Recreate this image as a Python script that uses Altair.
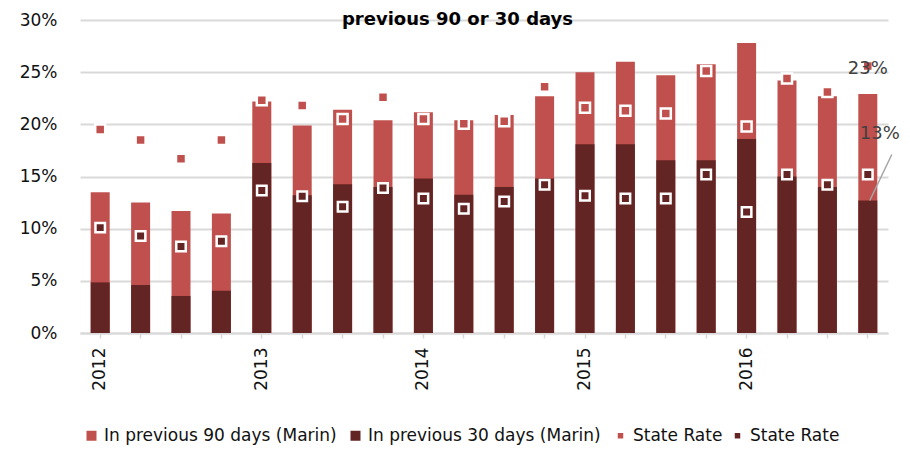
import altair as alt
import pandas as pd

quarters = [
    "2012 Q1", "2012 Q2", "2012 Q3", "2012 Q4",
    "2013 Q1", "2013 Q2", "2013 Q3", "2013 Q4",
    "2014 Q1", "2014 Q2", "2014 Q3", "2014 Q4",
    "2015 Q1", "2015 Q2", "2015 Q3", "2015 Q4",
    "2016 Q1", "2016 Q2", "2016 Q3", "2016 Q4",
]
marin_90 = [13.5, 12.5, 11.7, 11.45, 22.2, 19.9, 21.4, 20.4, 21.15, 20.4,
            20.9, 22.7, 25.0, 26.0, 24.7, 25.75, 27.8, 24.2, 22.7, 22.9]
marin_30 = [4.85, 4.6, 3.55, 4.05, 16.3, 13.2, 14.25, 14.0, 14.8, 13.25,
            14.0, 14.8, 18.1, 18.1, 16.55, 16.55, 18.6, 15.0, 14.0, 12.7]
state_90 = [19.5, 18.5, 16.7, 18.5, 22.3, 21.8, 20.5, 22.6, 20.5, 20.05,
            20.3, 23.6, 21.6, 21.3, 21.05, 25.1, 19.8, 24.4, 23.1, 25.6]
state_30 = [10.1, 9.3, 8.3, 8.8, 13.65, 13.1, 12.1, 13.9, 12.9, 11.9,
            12.6, 14.2, 13.15, 12.9, 12.9, 15.2, 11.6, 15.2, 14.2, 15.2]
bar_series = ["In previous 90 days (Marin)", "In previous 30 days (Marin)"]
bar_colors = ["#C0504D", "#632523"]
state_series = ["State Rate", "State Rate "]
state_colors = ["#C0504D", "#632523"]
y_ticks = [0, 5, 10, 15, 20, 25, 30]
title_text = "previous 90 or 30 days"

rows = []
for name, vals in zip(bar_series + state_series, [marin_90, marin_30, state_90, state_30]):
    for q, v in zip(quarters, vals):
        rows.append({"q": q, "series": name, "v": v})
df = pd.DataFrame(rows)

FONT = "DejaVu Sans"
W, H = 808, 313

x_enc = alt.X(
    "q:N", sort=quarters, title=None,
    scale=alt.Scale(domain=quarters, paddingInner=0.53, paddingOuter=0.265),
    axis=alt.Axis(
        labelExpr="indexof(datum.value, 'Q1') >= 0 ? slice(datum.value, 0, 4) : ''",
        labelAngle=270, labelFont=FONT, labelFontSize=17, labelColor="#111111",
        labelPadding=9, ticks=True, tickSize=5, tickColor="#d9d9d9", tickWidth=1.5,
        domain=True, domainColor="#d9d9d9", domainWidth=2, grid=False,
        labelOverlap=False,
    ),
)
y_enc = alt.Y(
    "v:Q", title=None, stack=None,
    scale=alt.Scale(domain=[0, 30], nice=False, zero=True),
    axis=alt.Axis(
        values=y_ticks, labelExpr="datum.value + '%'", labelFont=FONT,
        labelFontSize=17, labelColor="#111111", labelPadding=23, ticks=False,
        tickSize=0, domain=False, grid=True, gridColor="#d9d9d9", gridWidth=2,
    ),
)
legend_common = dict(
    orient="none", direction="horizontal", symbolType="square",
    symbolStrokeWidth=0, symbolOpacity=1, labelFont=FONT, labelFontSize=17,
    labelColor="#111111", labelOffset=4, padding=0, labelLimit=0,
)
color_enc = alt.Color(
    "series:N", title=None,
    scale=alt.Scale(domain=bar_series, range=bar_colors),
    legend=alt.Legend(legendX=3, legendY=407, symbolSize=100, columnPadding=10,
                      **legend_common),
)
fill_enc = alt.Fill(
    "series:N", title=None,
    scale=alt.Scale(domain=state_series, range=state_colors),
    legend=alt.Legend(legendX=532, legendY=407, symbolSize=30, columnPadding=6,
                      **legend_common),
)

base = alt.Chart(df)

bars90 = base.transform_filter(f"datum.series == '{bar_series[0]}'").mark_bar().encode(
    x=x_enc, y=y_enc, color=color_enc)
bars30 = base.transform_filter(f"datum.series == '{bar_series[1]}'").mark_bar().encode(
    x=x_enc, y=y_enc, color=color_enc)
pts90 = base.transform_filter(f"datum.series == '{state_series[0]}'").mark_point(
    shape="square", filled=True, size=100, stroke="white", strokeWidth=2.5, opacity=1
).encode(x=x_enc, y=y_enc, fill=fill_enc)
pts30 = base.transform_filter(f"datum.series == '{state_series[1]}'").mark_point(
    shape="square", filled=True, size=90, stroke="white", strokeWidth=2.5, opacity=1
).encode(x=x_enc, y=y_enc, fill=fill_enc)

last_q = quarters[-1]
leader = base.transform_filter(
    f"datum.series == '{bar_series[1]}' && datum.q == '{last_q}'"
).mark_rule(color="#a6a6a6", strokeWidth=1.5, xOffset=2, x2Offset=24, y2Offset=-46).encode(
    x=alt.X("q:N", bandPosition=0.5), x2=alt.X2("q", bandPosition=0.5),
    y="v:Q", y2="v")

lab90 = base.transform_filter(
    f"datum.series == '{bar_series[0]}' && datum.q == '{last_q}'"
).transform_calculate(lbl="format(datum.v, '.0f') + '%'").mark_text(
    font=FONT, fontSize=18, color="#404040", dy=-25
).encode(x="q:N", y="v:Q", text="lbl:N")
lab30 = base.transform_filter(
    f"datum.series == '{bar_series[1]}' && datum.q == '{last_q}'"
).transform_calculate(lbl="format(datum.v, '.0f') + '%'").mark_text(
    font=FONT, fontSize=18, color="#404040", dx=12, dy=-66
).encode(x="q:N", y="v:Q", text="lbl:N")

title_layer = alt.Chart(pd.DataFrame({"t": [title_text]})).mark_text(
    font=FONT, fontSize=18, fontWeight="bold", align="center", baseline="alphabetic",
    color="#000000"
).encode(text="t:N", x=alt.value(377.5), y=alt.value(5))

chart = alt.layer(bars90, bars30, pts90, pts30, leader, lab90, lab30, title_layer).properties(
    width=W, height=H,
    autosize=alt.AutoSizeParams(type="none"),
    padding={"left": 72, "top": 12, "right": 14, "bottom": 113},
).configure_view(stroke=None)

chart.save("out.html", embed_options={"renderer": "svg", "actions": False})
